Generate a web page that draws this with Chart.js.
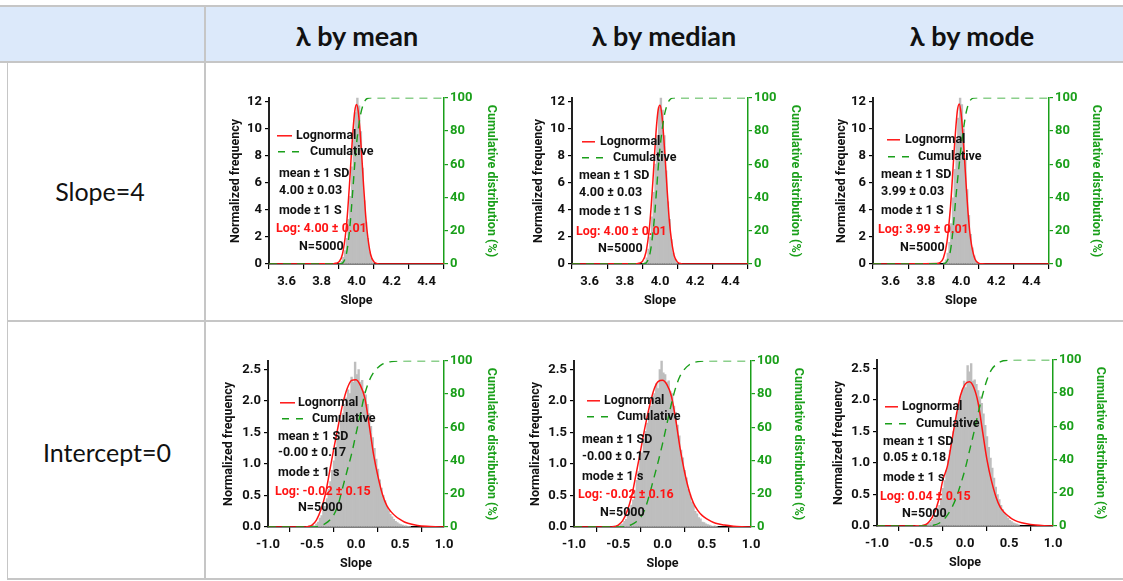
<!DOCTYPE html>
<html><head><meta charset="utf-8">
<script src="https://cdn.jsdelivr.net/npm/chart.js@4/dist/chart.umd.min.js"></script>
<style>
body{margin:0;width:1123px;height:581px;position:relative;background:#fff;font-family:Lato,'Open Sans',sans-serif;overflow:hidden}
.hdr{position:absolute;left:0;top:5px;width:1123px;height:58px;background:#dce9fa;border-top:2px solid #c6c6c6;border-bottom:2px solid #c6c6c6;box-sizing:border-box}
.ln{position:absolute;background:#c6c6c6}
.ht{position:absolute;top:35px;font-weight:bold;font-size:27px;color:#111;transform:translate(-50%,-50%);white-space:nowrap}
.rl{position:absolute;font-size:25px;color:#111;transform:translate(-50%,-50%);white-space:nowrap}
canvas{position:absolute}
</style></head>
<body>
<div class="hdr"></div>
<div class="ln" style="left:204px;top:5px;width:2px;height:575px"></div>
<div class="ln" style="left:7px;top:62px;width:1px;height:518px"></div>
<div class="ln" style="left:7px;top:320px;width:1116px;height:2px"></div>
<div class="ln" style="left:7px;top:578px;width:1116px;height:2px"></div>
<div class="ht" style="left:357px">λ by mean</div>
<div class="ht" style="left:664px">λ by median</div>
<div class="ht" style="left:972px">λ by mode</div>
<div class="rl" style="left:100px;top:191px">Slope=4</div>
<div class="rl" style="left:107px;top:452px">Intercept=0</div>
<canvas id="c11"></canvas><canvas id="c12"></canvas><canvas id="c13"></canvas>
<canvas id="c21"></canvas><canvas id="c22"></canvas><canvas id="c23"></canvas>
<script>
// ---------- DATA ----------
// Slope panels (row 1)
const slopeTicksX = [3.6, 3.8, 4.0, 4.2, 4.4];
const slopeFreqTicks = [0, 2, 4, 6, 8, 10, 12];
const cumTicks = [0, 20, 40, 60, 80, 100];
const slopeBinX = [3.905,3.915,3.925,3.935,3.945,3.955,3.965,3.975,3.985,3.995,4.005,4.015,4.025,4.035,4.045,4.055,4.065,4.075,4.085,4.095];
const slopeHistMean   = [0.05,0.2,0.5,1.0,1.9,3.3,5.0,7.2,9.2,11.2,12.6,11.7,9.8,7.1,4.7,3.1,1.9,0.9,0.4,0.1];
const slopeHistMedian = [0.05,0.15,0.45,1.1,2.0,3.5,5.3,7.4,9.5,11.6,12.5,11.4,9.5,6.9,4.6,3.3,1.8,0.8,0.35,0.1];
const slopeHistMode   = [0.1,0.3,0.8,1.6,3.0,4.9,7.0,9.0,10.8,12.6,11.8,10.0,7.8,5.5,3.6,2.2,1.2,0.6,0.2,0.05];
const slopeCurveX = [3.5,3.86,3.88,3.90,3.92,3.94,3.95,3.96,3.97,3.98,3.99,4.00,4.01,4.02,4.03,4.04,4.05,4.06,4.08,4.10,4.12,4.14,4.5];
const slopeLognMean   = [0,0.01,0.05,0.16,0.74,2.5,4.0,5.9,8.0,9.9,11.3,11.8,11.3,9.9,8.0,5.9,4.0,2.5,0.74,0.16,0.03,0,0];
const slopeLognMedian = [0,0.01,0.06,0.2,0.85,2.7,4.3,6.2,8.3,10.2,11.45,11.75,11.1,9.6,7.7,5.6,3.7,2.3,0.65,0.14,0.02,0,0];
const slopeLognMode   = [0,0.03,0.1,0.45,1.6,4.2,6.1,8.2,10.0,11.4,11.85,11.2,9.7,7.8,5.7,3.8,2.35,1.4,0.35,0.07,0.01,0,0];
const slopeCumX = [3.5,3.90,3.92,3.94,3.95,3.96,3.97,3.98,3.99,4.00,4.01,4.02,4.03,4.04,4.05,4.06,4.07,4.09,4.5];
const slopeCumMean   = [0,0,0.5,5,11,20,32,46,60,72,81,88,93,96.5,98.5,99.5,99.9,100,100];
const slopeCumMedian = [0,0,0.5,5,10.5,19,30,44,58,70,79,86.5,92,95.5,98,99.3,99.8,100,100];
const slopeCumMode   = [0,0.2,1.5,8,16,27,39,50,60,70,78,85.5,91.5,95.5,98,99.3,99.8,100,100];

// Intercept panels (row 2)
const intTicksX = [-1.0, -0.5, 0.0, 0.5, 1.0];
const intFreqTicks = [0.0, 0.5, 1.0, 1.5, 2.0, 2.5];
const intBinX = [-0.55,-0.53,-0.51,-0.49,-0.47,-0.45,-0.43,-0.41,-0.39,-0.37,-0.35,-0.33,-0.31,-0.29,-0.27,-0.25,-0.23,-0.21,-0.19,-0.17,-0.15,-0.13,-0.11,-0.09,-0.07,-0.05,-0.03,-0.01,0.01,0.03,0.05,0.07,0.09,0.11,0.13,0.15,0.17,0.19,0.21,0.23,0.25,0.27,0.29,0.31,0.33,0.35,0.37,0.39,0.41,0.43,0.45,0.47,0.49,0.51,0.53,0.55,0.57,0.59,0.61];
const intHistMean = [0.01,0.02,0.01,0.03,0.02,0.05,0.08,0.14,0.18,0.25,
  0.33,0.45,0.60,0.72,0.90,1.05,1.20,1.38,1.50,1.68,
  1.80,1.95,2.05,2.18,2.12,2.38,2.30,2.62,2.42,2.50,
  2.30,2.33,2.15,2.10,1.95,1.80,1.60,1.42,1.25,1.08,
  0.92,0.75,0.62,0.50,0.42,0.33,0.26,0.20,0.16,0.12,
  0.09,0.07,0.05,0.04,0.03,0.02,0.02,0.01,0.01];
const intHistMedian = [0.02,0.01,0.02,0.02,0.04,0.05,0.09,0.12,0.19,0.24,
  0.35,0.43,0.58,0.74,0.88,1.08,1.18,1.40,1.52,1.65,
  1.83,1.92,2.08,2.12,2.28,2.20,2.50,2.65,2.45,2.42,
  2.30,2.32,2.15,2.12,1.92,1.82,1.62,1.45,1.22,1.10,
  0.90,0.78,0.60,0.52,0.40,0.35,0.25,0.21,0.15,0.13,
  0.08,0.07,0.05,0.04,0.03,0.02,0.01,0.02,0.01];
const intHistMode = [0.01,0.01,0.01,0.01,0.02,0.02,0.03,0.04,0.06,0.09,
  0.13,0.17,0.25,0.33,0.44,0.60,0.72,0.88,1.05,1.20,
  1.36,1.50,1.68,1.80,1.93,2.05,2.15,2.30,2.20,2.55,
  2.45,2.58,2.30,2.32,2.25,2.15,2.05,1.95,1.78,1.60,
  1.42,1.25,1.08,0.92,0.76,0.62,0.50,0.42,0.33,0.26,
  0.20,0.16,0.12,0.09,0.07,0.05,0.04,0.03,0.02];
const intCurveX = [-1.0,-0.6,-0.55,-0.5,-0.45,-0.4,-0.35,-0.3,-0.25,-0.2,-0.15,-0.1,-0.05,0.0,0.05,0.1,0.15,0.2,0.25,0.3,0.35,0.4,0.45,0.5,0.55,0.6,0.7,0.8,0.9,1.0];
const intLognMean   = [0,0,0.005,0.03,0.11,0.27,0.51,0.88,1.26,1.62,1.96,2.2,2.33,2.34,2.25,2.05,1.62,1.15,0.8,0.52,0.34,0.24,0.17,0.12,0.08,0.055,0.025,0.01,0.003,0];
const intLognMedian = [0,0,0.005,0.03,0.1,0.25,0.48,0.83,1.2,1.57,1.9,2.17,2.31,2.33,2.26,2.08,1.7,1.24,0.87,0.58,0.38,0.26,0.18,0.13,0.09,0.06,0.03,0.012,0.004,0];
const intLognMode   = [0,0,0,0.003,0.02,0.08,0.2,0.41,0.74,0.95,1.35,1.75,2.08,2.25,2.29,2.2,1.95,1.5,1.05,0.72,0.47,0.3,0.21,0.15,0.1,0.07,0.035,0.015,0.005,0];
const intCumX = [-1.0,-0.5,-0.45,-0.4,-0.35,-0.3,-0.25,-0.2,-0.15,-0.1,-0.05,0.0,0.05,0.1,0.15,0.2,0.25,0.3,0.35,0.4,0.5,0.6,1.0];
const intCumMean   = [0,0,0.2,0.8,2,4,7.5,14,24,34,44,56,68,80,88,93,96,98,99,99.5,99.9,100,100];
const intCumMedian = [0,0,0.1,0.5,1.4,3,5.5,10.5,19,29,39,50,62,74,84,91,95,97.5,98.8,99.5,99.9,100,100];
const intCumMode   = [0,0,0,0.2,0.6,1.5,3.5,6.5,11,17,25,34,45,56,68,79,88,94,97,98.8,99.8,100,100];

// Annotation texts
const meanSdValues = ['4.00 ± 0.03','4.00 ± 0.03','3.99 ± 0.03','-0.00 ± 0.17','-0.00 ± 0.17','0.05 ± 0.18'];
const logValues = ['Log: 4.00 ± 0.01','Log: 4.00 ± 0.01','Log: 3.99 ± 0.01','Log: -0.02 ± 0.15','Log: -0.02 ± 0.16','Log: 0.04 ± 0.15'];
const modeLabels = ['mode ± 1 S','mode ± 1 S','mode ± 1 S','mode ± 1 s','mode ± 1 s','mode ± 1 s'];

// ---------- STYLE / LAYOUT ----------
const RED = '#ff1414', GREEN = '#1a9f1a', GRAY = '#bebebe', INK = '#111';
const FONT = 'Roboto, Lato, sans-serif';
const H = 167, PADT = 10, B = 44, R = 55;
const panels = [
  {id:'c11', left:269, top:97, w:175, L:41, kind:'slope', hist:slopeHistMean, logn:slopeLognMean, cum:slopeCumMean,
   a:{red:[8,23,38], lx:27, green:[9,33,54], cx:41, tx:10, ty:[76,93,113], logx:7, logy:131, nx:30, ny:149}},
  {id:'c12', left:572, top:97, w:176, L:41, kind:'slope', hist:slopeHistMedian, logn:slopeLognMedian, cum:slopeCumMedian,
   a:{red:[10,23,44], lx:28, green:[10,33,60], cx:41, tx:7, ty:[78,95,114], logx:4, logy:134, nx:26, ny:151}},
  {id:'c13', left:873, top:97, w:176, L:39, kind:'slope', hist:slopeHistMode, logn:slopeLognMode, cum:slopeCumMode,
   a:{red:[14,27,42], lx:32, green:[15,37,59], cx:45, tx:8, ty:[77,94,113], logx:5, logy:132, nx:27, ny:150}},
  {id:'c21', left:268, top:360, w:176, L:47, kind:'int', hist:intHistMean, logn:intLognMean, cum:intCumMean,
   a:{red:[12,27,42], lx:30, green:[14,35,58], cx:44, tx:10, ty:[76,92,112], logx:7, logy:131, nx:30, ny:147}},
  {id:'c22', left:574, top:360, w:177, L:46, kind:'int', hist:intHistMedian, logn:intLognMedian, cum:intCumMedian,
   a:{red:[13,26,40], lx:30, green:[13,36,56], cx:43, tx:8, ty:[79,96,116], logx:4, logy:134, nx:26, ny:152}},
  {id:'c23', left:877, top:359, w:176, L:46, kind:'int', hist:intHistMode, logn:intLognMode, cum:intCumMode,
   a:{red:[8,21,47], lx:25, green:[8,31,64], cx:39, tx:6, ty:[82,98,118], logx:3, logy:137, nx:25, ny:154}}
];

function xy(xs, ys){ return xs.map((x,i)=>({x:x, y:ys[i]})); }

const annotPlugin = {
  id:'annot',
  afterDraw(chart, args, o){
    if (!o || !o.a) return;
    const a = o.a, ctx = chart.ctx, l = chart.chartArea.left, t = chart.chartArea.top;
    ctx.save();
    ctx.lineWidth = 1.5;
    ctx.strokeStyle = RED;
    ctx.beginPath(); ctx.moveTo(l+a.red[0], t+a.red[2]); ctx.lineTo(l+a.red[1], t+a.red[2]); ctx.stroke();
    ctx.strokeStyle = GREEN; ctx.setLineDash([7,7]);
    ctx.beginPath(); ctx.moveTo(l+a.green[0], t+a.green[2]); ctx.lineTo(l+a.green[1], t+a.green[2]); ctx.stroke();
    ctx.setLineDash([]);
    ctx.font = 'bold 12.5px ' + FONT;
    ctx.textBaseline = 'middle'; ctx.textAlign = 'left';
    ctx.fillStyle = INK;
    ctx.fillText('Lognormal', l+a.lx, t+a.red[2]);
    ctx.fillText('Cumulative', l+a.cx, t+a.green[2]);
    ctx.fillText('mean ± 1 SD', l+a.tx, t+a.ty[0]);
    ctx.fillText(o.meanSd, l+a.tx, t+a.ty[1]);
    ctx.fillText(o.mode, l+a.tx, t+a.ty[2]);
    ctx.fillText('N=5000', l+a.nx, t+a.ny);
    ctx.fillStyle = RED;
    ctx.fillText(o.log, l+a.logx, t+a.logy);
    ctx.restore();
  }
};

panels.forEach((p, i) => {
  const isSlope = p.kind === 'slope';
  const cv = document.getElementById(p.id);
  const cw = p.L + p.w + R, ch = PADT + H + B;
  cv.width = cw; cv.height = ch;
  cv.style.left = (p.left - p.L) + 'px';
  cv.style.top = (p.top - PADT) + 'px';
  cv.style.width = cw + 'px'; cv.style.height = ch + 'px';
  const xT = isSlope ? slopeTicksX : intTicksX;
  const yT = isSlope ? slopeFreqTicks : intFreqTicks;
  const tickFont = {family: FONT, size: 13, weight: 'bold'};
  const titleFont = {family: FONT, size: 12.5, weight: 'bold'};
  new Chart(cv, {
    type: 'bar',
    data: {
      datasets: [
        {type:'line', label:'Cumulative', data: xy(isSlope ? slopeCumX : intCumX, p.cum), yAxisID:'y2',
         borderColor: GREEN, borderWidth: 1.4, borderDash:[8,6], pointRadius:0, cubicInterpolationMode:'monotone', fill:false, order:0},
        {type:'line', label:'Lognormal', data: xy(isSlope ? slopeCurveX : intCurveX, p.logn), yAxisID:'y',
         borderColor: RED, borderWidth: 1.5, pointRadius:0, cubicInterpolationMode:'monotone', fill:false, order:1},
        {type:'bar', label:'Histogram', data: xy(isSlope ? slopeBinX : intBinX, p.hist), yAxisID:'y',
         backgroundColor: GRAY, borderWidth:0, barPercentage:1, categoryPercentage:1, order:2}
      ]
    },
    options: {
      responsive:false, animation:false, devicePixelRatio:1,
      layout:{padding:{top:PADT, left:0, right:0, bottom:0}},
      plugins:{legend:{display:false}, tooltip:{enabled:false},
        annot:{a:p.a, meanSd: meanSdValues[i], log: logValues[i], mode: modeLabels[i]}},
      scales:{
        x:{type:'linear', min: isSlope ? 3.5 : -1.0, max: isSlope ? 4.5 : 1.0, offset:false,
           afterBuildTicks: s => { s.ticks = xT.map(v => ({value:v})); },
           afterFit: s => { s.height = B; },
           ticks:{font:tickFont, color:INK, padding:5, maxRotation:0, autoSkip:false, callback: v => Number(v).toFixed(1)},
           grid:{drawOnChartArea:false, drawTicks:true, tickLength:5, color:'#000', lineWidth:1.2},
           border:{color:'#000', width:1.5},
           title:{display:true, text:'Slope', font:titleFont, color:INK, padding:0}},
        y:{position:'left', min:0, max: isSlope ? 12.3 : 2.64,
           afterBuildTicks: s => { s.ticks = yT.map(v => ({value:v})); },
           afterFit: s => { s.width = p.L; },
           ticks:{font:tickFont, color:INK, padding:3, autoSkip:false, callback: v => isSlope ? String(v) : Number(v).toFixed(1)},
           grid:{drawOnChartArea:false, drawTicks:true, tickLength:4, color:'#000', lineWidth:1.2},
           border:{color:'#222', width:2},
           title:{display:true, text:'Normalized frequency', font:titleFont, color:INK, padding:0}},
        y2:{position:'right', min:0, max:100,
           afterBuildTicks: s => { s.ticks = cumTicks.map(v => ({value:v})); },
           afterFit: s => { s.width = R; },
           ticks:{font:tickFont, color:GREEN, padding:2, autoSkip:false},
           grid:{drawOnChartArea:false, drawTicks:true, tickLength:4, color:GREEN, lineWidth:1.2},
           border:{color:GREEN, width:1.5},
           title:{display:true, text:'Cumulative distribution (%)', font:titleFont, color:GREEN, padding:0}}
      }
    },
    plugins:[annotPlugin]
  });
});
</script>
</body></html>
